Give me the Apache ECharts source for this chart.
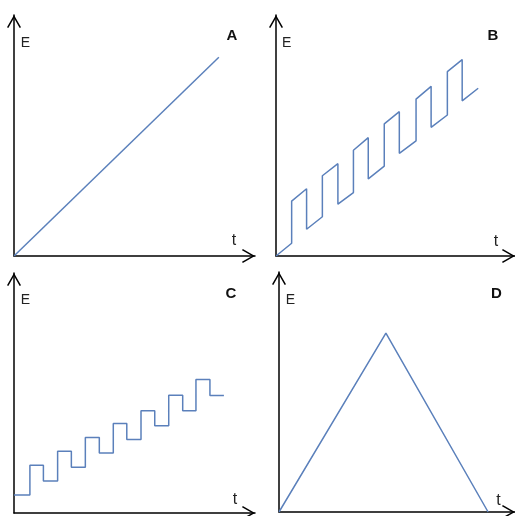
<!DOCTYPE html>
<html>
<head>
<meta charset="utf-8">
<script src="https://cdn.jsdelivr.net/npm/echarts@6/dist/echarts.min.js"></script>
<style>html,body{margin:0;padding:0;background:#fff}#c{width:515px;height:516px}</style>
</head>
<body>
<div id="c"></div>
<script>
// Panel data (t, E) in relative units 0..100 of each panel's axes
const panelNames = ['A', 'B', 'C', 'D'];
const seriesA = [[0, 0], [85, 82.5]];
const seriesB = [
  [0, 0], [6.55, 5.3], [6.55, 22.8], [12.8, 27.9], [12.8, 11.1], [19.4, 16.3], [19.4, 33.3],
  [25.9, 38.3], [25.9, 21.5], [32.4, 26.3], [32.4, 43.9], [38.6, 49.1], [38.6, 32.0],
  [45.3, 37.3], [45.3, 54.8], [51.6, 59.9], [51.6, 42.6], [58.6, 47.8], [58.6, 65.1],
  [64.9, 70.4], [64.9, 53.4], [71.7, 58.5], [71.7, 76.5], [77.9, 81.5], [77.9, 64.4],
  [84.6, 69.6]
];
const seriesC = [
  [0, 7.5], [6.6, 7.5], [6.6, 19.9], [12.2, 19.9], [12.2, 13.3], [18.1, 13.3], [18.1, 25.7],
  [23.8, 25.7], [23.8, 19.1], [29.6, 19.1], [29.6, 31.5], [35.4, 31.5], [35.4, 25.0],
  [41.2, 25.0], [41.2, 37.3], [46.8, 37.3], [46.8, 30.6], [52.7, 30.6], [52.7, 42.6],
  [58.4, 42.6], [58.4, 36.4], [64.2, 36.4], [64.2, 49.1], [70.0, 49.1], [70.0, 42.6],
  [75.5, 42.6], [75.5, 55.6], [81.3, 55.6], [81.3, 49.0], [87.1, 49.0]
];
const seriesD = [[0, 0], [45.3, 74.5], [88.6, 0]];
const axisNameY = 'E';
const axisNameX = 't';

const allSeries = [seriesA, seriesB, seriesC, seriesD];

const grids = [
  {left: 14, top: 15, width: 241, height: 241},
  {left: 276, top: 15, width: 239, height: 241},
  {left: 14, top: 273, width: 241, height: 240},
  {left: 279, top: 272, width: 236, height: 240}
];

const chevron = 'path://M7,0 L14,12.2 L12.7,13 L7,2.9 L1.3,13 L0,12.2 Z';
function axisBase() {
  return {
    type: 'value', min: 0, max: 100,
    axisLabel: {show: false}, axisTick: {show: false}, splitLine: {show: false},
    axisLine: {
      show: true, onZero: false,
      lineStyle: {color: '#000', width: 1.5},
      symbol: ['none', chevron], symbolSize: [14, 13], symbolOffset: [0, -6.5]
    }
  };
}

const chart = echarts.init(document.getElementById('c'), null, {renderer: 'canvas'});
const fontFam = '"Liberation Sans", Arial, sans-serif';
const textPos = [
  {E: [25.5, 43], L: [232, 36], t: [234, 241]},
  {E: [286.7, 43], L: [493, 36], t: [496, 241.5]},
  {E: [25.5, 300.5], L: [231, 293.5], t: [235, 499.5]},
  {E: [290.5, 300.5], L: [496.5, 293.5], t: [498.5, 501]}
];
const graphics = [];
textPos.forEach((p, i) => {
  graphics.push({type: 'text', x: p.E[0], y: p.E[1], style: {text: axisNameY, font: '14px ' + fontFam, fill: '#222', textAlign: 'center', textVerticalAlign: 'middle'}});
  graphics.push({type: 'text', x: p.L[0], y: p.L[1], style: {text: panelNames[i], font: 'bold 15px ' + fontFam, fill: '#111', textAlign: 'center', textVerticalAlign: 'middle'}});
  graphics.push({type: 'text', x: p.t[0], y: p.t[1], style: {text: axisNameX, font: '16px ' + fontFam, fill: '#222', textAlign: 'center', textVerticalAlign: 'middle'}});
});

chart.setOption({
  animation: false,
  backgroundColor: '#fff',
  grid: grids,
  xAxis: grids.map((g, i) => Object.assign(axisBase(), {gridIndex: i})),
  yAxis: grids.map((g, i) => Object.assign(axisBase(), {gridIndex: i})),
  series: allSeries.map((d, i) => ({
    type: 'line', xAxisIndex: i, yAxisIndex: i, data: d,
    showSymbol: false, symbol: 'none',
    lineStyle: {color: '#5b80bb', width: 1.5},
    clip: false
  })),
  graphic: graphics
});
</script>
</body>
</html>
